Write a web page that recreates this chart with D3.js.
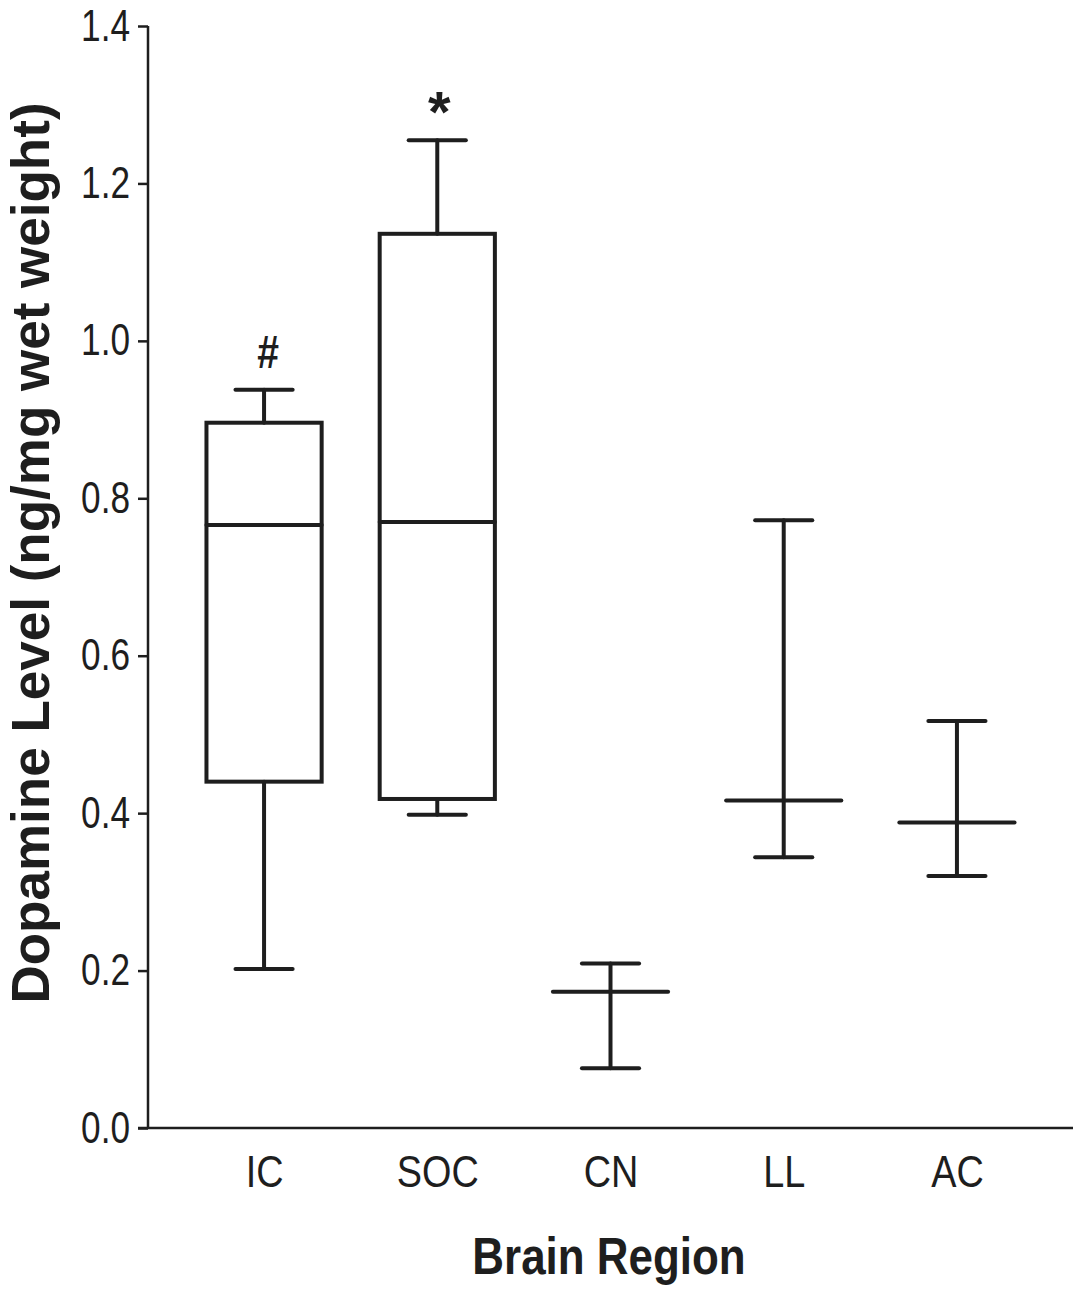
<!DOCTYPE html>
<html>
<head>
<meta charset="utf-8">
<script src="https://cdn.jsdelivr.net/npm/d3@7"></script>
<style>
  html, body { margin: 0; padding: 0; background: #fff; }
  svg { display: block; }
</style>
</head>
<body>
<svg id="chart" width="1083" height="1300"></svg>
<script>
// ---- data ----
const categories   = ["IC", "SOC", "CN", "LL", "AC"];
const whiskerLow   = [0.202, 0.398, 0.076, 0.344, 0.320];
const quartile1    = [0.440, 0.418, null, null, null];
const medians      = [0.766, 0.770, 0.173, 0.416, 0.388];
const quartile3    = [0.896, 1.136, null, null, null];
const whiskerHigh  = [0.938, 1.255, 0.209, 0.772, 0.517];
const annotations  = ["#", "*", "", "", ""];
const yTicks       = [0, 0.2, 0.4, 0.6, 0.8, 1.0, 1.2, 1.4];
const yLabel = "Dopamine Level (ng/mg wet weight)";
const xLabel = "Brain Region";

(function () {
// ---- layout ----
const svg = d3.select("#chart");
const mLeft = 148, mRight = 1073, mTop = 26, mBottom = 1128;
const ink = "#1e1e1e";
const font = "'Liberation Sans', Arial, Helvetica, sans-serif";

const x = d3.scalePoint().domain(categories).range([mLeft, mRight]).padding(0.67);
const y = d3.scaleLinear().domain([0, 1.4]).range([mBottom, mTop]);
const boxW = x.step() * 0.665;
const capW = x.step() * 0.33;

// axes
const tickCond = 0.8;
const yAxis = d3.axisLeft(y).tickValues(yTicks).tickFormat(d3.format(".1f")).tickSize(10).tickPadding(8);
const gy = svg.append("g").attr("transform", `translate(${mLeft},0)`).call(yAxis);
gy.select(".domain").attr("stroke", ink).attr("stroke-width", 2.5).attr("d", `M0,${mTop}V${mBottom}`);
gy.selectAll(".tick line").attr("stroke", ink).attr("stroke-width", 2.5);
gy.selectAll(".tick text").attr("fill", ink).style("font-family", font).style("font-size", "44px")
  .attr("x", -18 / tickCond).attr("transform", `scale(${tickCond},1)`);

const catCond = 0.86;
const xAxis = d3.axisBottom(x).tickSize(0).tickPadding(28);
const gx = svg.append("g").attr("transform", `translate(0,${mBottom})`).call(xAxis);
gx.select(".domain").attr("stroke", ink).attr("stroke-width", 2.5).attr("d", `M${mLeft - 10},0H${mRight}`);
gx.selectAll(".tick text").attr("fill", ink).style("font-family", font).style("font-size", "44px")
  .attr("transform", `scale(${catCond},1)`);

// marks
const g = svg.append("g");
const lw = 4;
categories.forEach((c, i) => {
  const cx = x(c);
  const line = (x1, y1, x2, y2) => g.append("line")
    .attr("x1", x1).attr("y1", y1).attr("x2", x2).attr("y2", y2)
    .attr("stroke", ink).attr("stroke-width", lw).attr("stroke-linecap", "round");
  if (quartile1[i] != null) {
    line(cx, y(whiskerLow[i]), cx, y(quartile1[i]));
    line(cx, y(quartile3[i]), cx, y(whiskerHigh[i]));
    g.append("rect")
      .attr("x", cx - boxW / 2).attr("y", y(quartile3[i]))
      .attr("width", boxW).attr("height", y(quartile1[i]) - y(quartile3[i]))
      .attr("fill", "none").attr("stroke", ink).attr("stroke-width", lw);
    line(cx - boxW / 2, y(medians[i]), cx + boxW / 2, y(medians[i]));
  } else {
    line(cx, y(whiskerLow[i]), cx, y(whiskerHigh[i]));
    line(cx - boxW / 2, y(medians[i]), cx + boxW / 2, y(medians[i]));
  }
  line(cx - capW / 2, y(whiskerLow[i]), cx + capW / 2, y(whiskerLow[i]));
  line(cx - capW / 2, y(whiskerHigh[i]), cx + capW / 2, y(whiskerHigh[i]));
  if (annotations[i]) {
    const isStar = annotations[i] === "*";
    const ax = cx + (isStar ? 2 : 4);
    const ay = y(whiskerHigh[i]) - (isStar ? 8 : 22);
    g.append("text")
      .attr("transform", `translate(${ax},${ay}) scale(${isStar ? 1 : 0.85},1)`)
      .attr("text-anchor", "middle")
      .attr("fill", ink)
      .style("font-family", font).style("font-weight", "bold")
      .style("font-size", isStar ? "58px" : "46px")
      .text(annotations[i]);
  }
});

// axis titles
svg.append("text")
  .attr("transform", `translate(49,553) rotate(-90)`)
  .attr("text-anchor", "middle")
  .attr("fill", ink)
  .style("font-family", font).style("font-weight", "bold").style("font-size", "53px")
  .text(yLabel);

svg.append("text")
  .attr("transform", `translate(609,1274) scale(0.845,1)`)
  .attr("text-anchor", "middle")
  .attr("fill", ink)
  .style("font-family", font).style("font-weight", "bold").style("font-size", "52px")
  .text(xLabel);
})();
</script>
</body>
</html>
